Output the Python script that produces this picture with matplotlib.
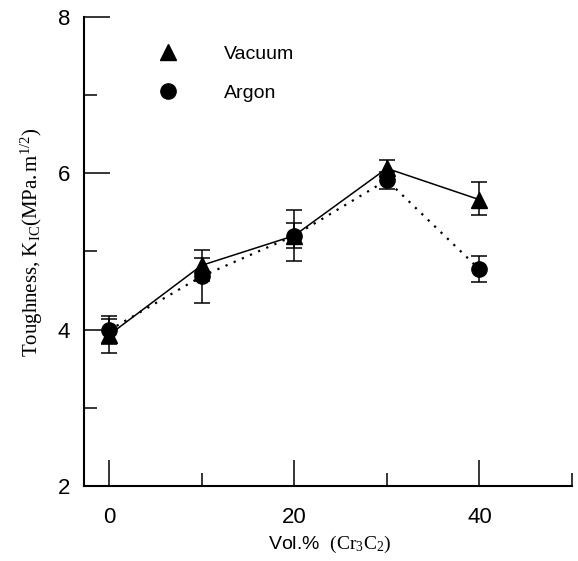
import matplotlib
matplotlib.use("Agg")
import matplotlib.pyplot as plt
from matplotlib.lines import Line2D

plt.rcParams['font.family'] = 'Liberation Sans'
plt.rcParams['mathtext.fontset'] = 'custom'
plt.rcParams['mathtext.rm'] = 'Liberation Serif'
plt.rcParams['mathtext.it'] = 'Liberation Serif:italic'

# data
vol = [0, 10, 20, 30, 40]
vacuum = [3.93, 4.82, 5.20, 6.06, 5.66]
vacuum_err_lo = [0.23, 0.20, 0.16, 0.11, 0.20]
vacuum_err_hi = [0.21, 0.20, 0.16, 0.11, 0.22]
argon = [3.99, 4.68, 5.20, 5.91, 4.77]
argon_err_lo = [0.18, 0.34, 0.33, 0.11, 0.16]
argon_err_hi = [0.18, 0.23, 0.33, 0.11, 0.17]

fig = plt.figure(figsize=(5.78, 5.61), dpi=100)
ax = fig.add_axes([84 / 578, 1 - 486 / 561, 488 / 578, 469.4 / 561])

ax.errorbar(vol, vacuum, yerr=[vacuum_err_lo, vacuum_err_hi], color='black',
            linestyle='-', linewidth=1.1, marker='^', markersize=11,
            elinewidth=1.1, capsize=6, capthick=1.1)
ax.errorbar(vol, argon, yerr=[argon_err_lo, argon_err_hi], color='black',
            linestyle=(0, (1, 3)), linewidth=1.6, marker='o', markersize=11,
            elinewidth=1.1, capsize=6, capthick=1.1)

ax.set_xlim(-2.7, 50)
ax.set_ylim(2, 8)
ax.set_xticks([0, 20, 40])
ax.set_xticks([10, 30, 50], minor=True)
ax.set_yticks([2, 4, 6, 8])
ax.set_yticks([3, 5, 7], minor=True)

for s in ['top', 'right']:
    ax.spines[s].set_visible(False)
for s in ['left', 'bottom']:
    ax.spines[s].set_linewidth(1.5)

ax.tick_params(which='major', direction='in', length=19, width=1.1, labelsize=16)
ax.tick_params(which='minor', direction='in', length=9.5, width=1.1)
ax.tick_params(axis='x', which='major', pad=15)
ax.tick_params(axis='y', which='major', pad=10)

ax.set_xlabel(r'Vol.%  $\mathrm{(Cr_3C_2)}$', fontsize=14)
ax.xaxis.set_label_coords(0.504, -0.102)
ax.set_ylabel(r'Toughness, $\mathrm{K_{IC}(MPa.m^{1/2})}$', fontsize=15,
              family='Liberation Serif')
ax.yaxis.set_label_coords(-0.08, 0.519)

handles = [Line2D([], [], color='black', marker='^', linestyle='none', markersize=11),
           Line2D([], [], color='black', marker='o', linestyle='none', markersize=11)]
ax.legend(handles, ['Vacuum', 'Argon'], loc='upper left',
          bbox_to_anchor=(158 / 578, 1 - 45 / 561), bbox_transform=fig.transFigure,
          frameon=False, fontsize=14, handlelength=1, handletextpad=2.4,
          labelspacing=1.1, borderpad=0, borderaxespad=0)

fig.savefig('out.png', dpi=100)
